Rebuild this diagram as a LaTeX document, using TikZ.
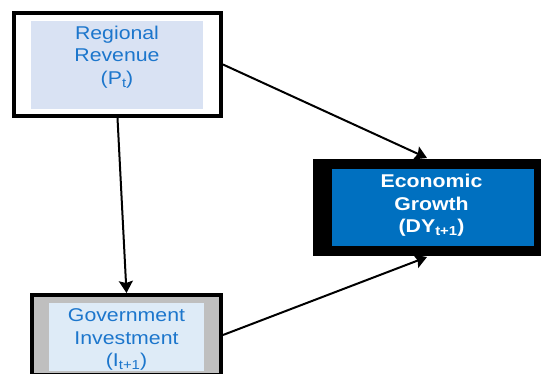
\documentclass[tikz,border=0pt]{standalone}
\usepackage{fontspec}
\setmainfont{Liberation Sans}
\newfontfamily\boxfont[FakeStretch=1.15]{Liberation Sans}
\usetikzlibrary{arrows.meta}
\definecolor{cblue}{RGB}{0,112,192}
\definecolor{ctext}{RGB}{28,118,204}
\definecolor{clight}{RGB}{217,226,243}
\definecolor{cpale}{RGB}{222,235,247}
\definecolor{cgrey}{RGB}{191,191,191}
\newcommand{\lowsub}[1]{\raisebox{-0.3ex}{\fontsize{13}{13}\selectfont #1}}

\begin{document}
\begin{tikzpicture}[x=1pt,y=-1pt,>={Stealth[length=12pt,width=14pt,inset=2pt]},line width=2pt,
  frame node/.style={rectangle,draw,line width=4pt,inner sep=0pt},
  fill node/.style={rectangle,inner sep=0pt},
  text node/.style={align=center,inner sep=0pt,font={\boxfont\fontsize{18.5}{22.5}\selectfont}},
  bold node/.style={text node,font={\boxfont\bfseries\fontsize{18.5}{22.5}\selectfont}}]
  \useasboundingbox (0,0) rectangle (541,374);

  % revenue box
  \node[frame node,fill=white,minimum width=207pt,minimum height=103pt] (rev) at (117.5,64.5) {};
  \node[fill node,fill=clight,minimum width=172pt,minimum height=88pt] (revfill) at (117,65) {};
  \node[text node,text=ctext] (revtext) at (117,57) {Regional\\Revenue\\(P\lowsub{t})};

  % investment box
  \node[frame node,fill=cgrey,minimum width=189pt,minimum height=80pt] (inv) at (126.5,335) {};
  \node[fill node,fill=cpale,minimum width=155pt,minimum height=68pt] (invfill) at (126.5,337) {};
  \node[text node,text=ctext] (invtext) at (126.5,339.5) {Government\\Investment\\(I\lowsub{t+1})};

  % growth box
  \node[fill node,fill=black,minimum width=228pt,minimum height=97pt] (gro) at (427,207.5) {};
  \node[fill node,fill=cblue,minimum width=202pt,minimum height=77pt] (grofill) at (433,207.5) {};
  \node[bold node,text=white] (grotext) at (431.5,205.5) {Economic\\Growth\\(DY\lowsub{t+1})};

  \draw[->] (rev.south) -- (inv.north);
  \draw[->] (rev.east) -- (gro.north);
  \draw[->] (inv.east) -- (gro.south);
\end{tikzpicture}
\end{document}
